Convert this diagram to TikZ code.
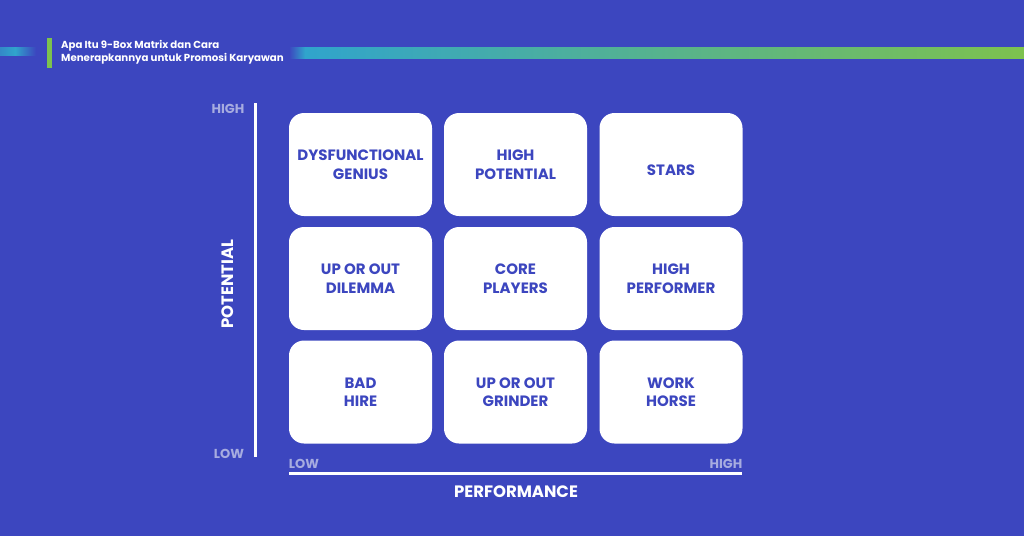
\documentclass[tikz,border=0pt]{standalone}
\usepackage{fontspec}
\setmainfont{Poppins}[BoldFont={Poppins Bold}]
\definecolor{bg}{HTML}{3C46BF}
\definecolor{axislbl}{HTML}{A7ACE0}
\definecolor{teal}{HTML}{30A4CC}
\definecolor{lgreen}{HTML}{7DC24E}
\tikzset{
  cell/.style={fill=white, rounded corners=15pt, minimum width=143pt, minimum height=103pt, inner sep=0pt,
    text=bg, font=\fontsize{15}{18.5}\selectfont\bfseries, align=center},
  axtxt/.style={text=axislbl, font=\fontsize{13}{15}\selectfont\bfseries, inner sep=0pt},
  axtitle/.style={text=white, font=\fontsize{16.5}{18}\selectfont\bfseries, inner sep=0pt},
}
\begin{document}
\begin{tikzpicture}[x=1pt,y=-1pt]
\fill[bg] (0,0) rectangle (1024,536);
\useasboundingbox (0,0) rectangle (1024,536);
% header
\shade[left color=teal!70!bg, right color=teal] (0,47) rectangle (15,55);
\shade[left color=teal, right color=bg] (15,47) rectangle (36,55);
\shade[left color=bg, right color=teal] (289,47) rectangle (305,58);
\shade[left color=teal, right color=lgreen] (305,47) rectangle (1024,58);
\fill[lgreen] (47,38) rectangle (52,68);
\node[anchor=north west, text=white, font=\fontsize{10.2}{13}\selectfont\bfseries, align=left, inner sep=0pt] (title) at (61,40)
  {Apa Itu 9-Box Matrix dan Cara\\Menerapkannya untuk Promosi Karyawan};
% cells
\node[cell] (c11) at (360.5,164.5) {DYSFUNCTIONAL\\GENIUS};
\node[cell] (c12) at (515.5,164.5) {HIGH\\POTENTIAL};
\node[cell] (c13) at (671,164.5) {};
\node[text=bg, font=\fontsize{15}{18.5}\selectfont\bfseries, inner sep=0pt] (stars) at (671,170) {STARS};
\node[cell] (c21) at (360.5,278.5) {UP OR OUT\\DILEMMA};
\node[cell] (c22) at (515.5,278.5) {CORE\\PLAYERS};
\node[cell] (c23) at (671,278.5) {HIGH\\PERFORMER};
\node[cell] (c31) at (360.5,392) {BAD\\HIRE};
\node[cell] (c32) at (515.5,392) {UP OR OUT\\GRINDER};
\node[cell] (c33) at (671,392) {WORK\\HORSE};
% axes
\coordinate (vtop) at (255.5,103);
\coordinate (vbot) at (255.5,457);
\draw[white, line width=3pt] (vtop) -- (vbot);
\coordinate (hl) at (289,473);
\coordinate (hr) at (742,473);
\draw[white, line width=3pt] (hl) -- (hr);
\node[axtxt] (yhigh) at (228,108.5) {HIGH};
\node[axtxt] (ylow) at (229,453.5) {LOW};
\node[axtxt] (xlow) at (304,464) {LOW};
\node[axtxt] (xhigh) at (726,464) {HIGH};
\node[axtitle, rotate=90] (ytitle) at (228,284) {POTENTIAL};
\node[axtitle] (xtitle) at (516,491.5) {PERFORMANCE};
\end{tikzpicture}
\end{document}
